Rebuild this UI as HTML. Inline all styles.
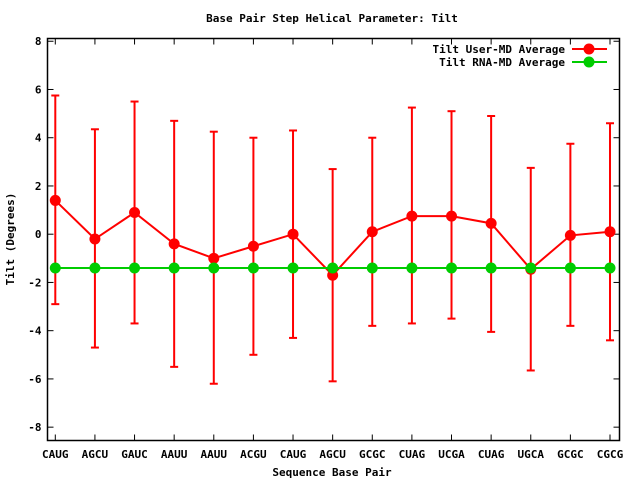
<!DOCTYPE html>
<html><head><meta charset="utf-8"><style>
body{margin:0;background:#fff}
svg text{font-family:"DejaVu Sans Mono","Liberation Mono",monospace;font-weight:bold;font-size:11px;fill:#000}
</style></head><body>
<svg id="chart" width="640" height="480" xmlns="http://www.w3.org/2000/svg">
<text x="332" y="22" text-anchor="middle">Base Pair Step Helical Parameter: Tilt</text>
<text x="332" y="476" text-anchor="middle">Sequence Base Pair</text>
<text transform="translate(14,239) rotate(-90)" text-anchor="middle">Tilt (Degrees)</text>
<g id="axes"></g><g id="marks"></g>
<g>
<text x="565" y="53" text-anchor="end">Tilt User-MD Average</text>
<line x1="572" y1="49" x2="607" y2="49" stroke="#f00" stroke-width="2"/>
<circle cx="589" cy="49" r="5.5" fill="#f00"/>
<text x="565" y="66" text-anchor="end">Tilt RNA-MD Average</text>
<line x1="572" y1="62" x2="607" y2="62" stroke="#0c0" stroke-width="2"/>
<circle cx="589" cy="62" r="5.5" fill="#0c0"/>
</g>
</svg>
<script>
const categories=["CAUG","AGCU","GAUC","AAUU","AAUU","ACGU","CAUG","AGCU","GCGC","CUAG","UCGA","CUAG","UGCA","GCGC","CGCG"];
const userMean=[1.4,-0.2,0.9,-0.4,-1.0,-0.5,0.0,-1.7,0.1,0.75,0.75,0.45,-1.45,-0.05,0.1];
const userHigh=[5.75,4.35,5.5,4.7,4.25,4.0,4.3,2.7,4.0,5.25,5.1,4.9,2.75,3.75,4.6];
const userLow=[-2.9,-4.7,-3.7,-5.5,-6.2,-5.0,-4.3,-6.1,-3.8,-3.7,-3.5,-4.05,-5.65,-3.8,-4.4];
const rnaMean=[-1.4,-1.4,-1.4,-1.4,-1.4,-1.4,-1.4,-1.4,-1.4,-1.4,-1.4,-1.4,-1.4,-1.4,-1.4];
const yTicks=[-8,-6,-4,-2,0,2,4,6,8];
const NS="http://www.w3.org/2000/svg";
const L=47.5,R=619.5,T=38.5,B=440.5;
const x=i=>55.3+i*(610-55.3)/(categories.length-1);
const y=v=>234.2-v*24.12;
function mk(p,tag,a){const e=document.createElementNS(NS,tag);for(const k in a)e.setAttribute(k,a[k]);p.appendChild(e);return e;}
const ax=document.getElementById('axes'),mg=document.getElementById('marks');
const fr=mk(ax,'rect',{x:L,y:T,width:R-L,height:B-T,fill:'none',stroke:'#000','stroke-width':1.5});


yTicks.forEach(v=>{
 mk(ax,'line',{x1:L,y1:y(v),x2:L+6,y2:y(v),stroke:'#000'});
 mk(ax,'line',{x1:R,y1:y(v),x2:R-6,y2:y(v),stroke:'#000'});
 const t=mk(ax,'text',{x:L-6,y:y(v)+4,'text-anchor':'end'});t.textContent=v;
 
 
});
categories.forEach((c,i)=>{
 mk(ax,'line',{x1:x(i),y1:B,x2:x(i),y2:B-6,stroke:'#000'});
 mk(ax,'line',{x1:x(i),y1:T,x2:x(i),y2:T+6,stroke:'#000'});
 const t=mk(ax,'text',{x:x(i),y:458,'text-anchor':'middle'});t.textContent=c;
 
 
});
categories.forEach((c,i)=>{
 const g=mk(mg,'g',{stroke:'#f00','stroke-width':2});
 
 
 mk(g,'line',{x1:x(i),y1:y(userHigh[i]),x2:x(i),y2:y(userLow[i])});
 mk(g,'line',{x1:x(i)-4,y1:y(userHigh[i]),x2:x(i)+4,y2:y(userHigh[i])});
 mk(g,'line',{x1:x(i)-4,y1:y(userLow[i]),x2:x(i)+4,y2:y(userLow[i])});
});
const ul=mk(mg,'polyline',{points:userMean.map((v,i)=>x(i)+','+y(v)).join(' '),fill:'none',stroke:'#f00','stroke-width':2});


const rl=mk(mg,'polyline',{points:rnaMean.map((v,i)=>x(i)+','+y(v)).join(' '),fill:'none',stroke:'#0c0','stroke-width':2});


userMean.forEach((v,i)=>{const p=mk(mg,'circle',{cx:x(i),cy:y(v),r:5.5,fill:'#f00'});
 
 });
rnaMean.forEach((v,i)=>{const p=mk(mg,'circle',{cx:x(i),cy:y(v),r:5.5,fill:'#0c0'});
 
 });
</script>
</body></html>
